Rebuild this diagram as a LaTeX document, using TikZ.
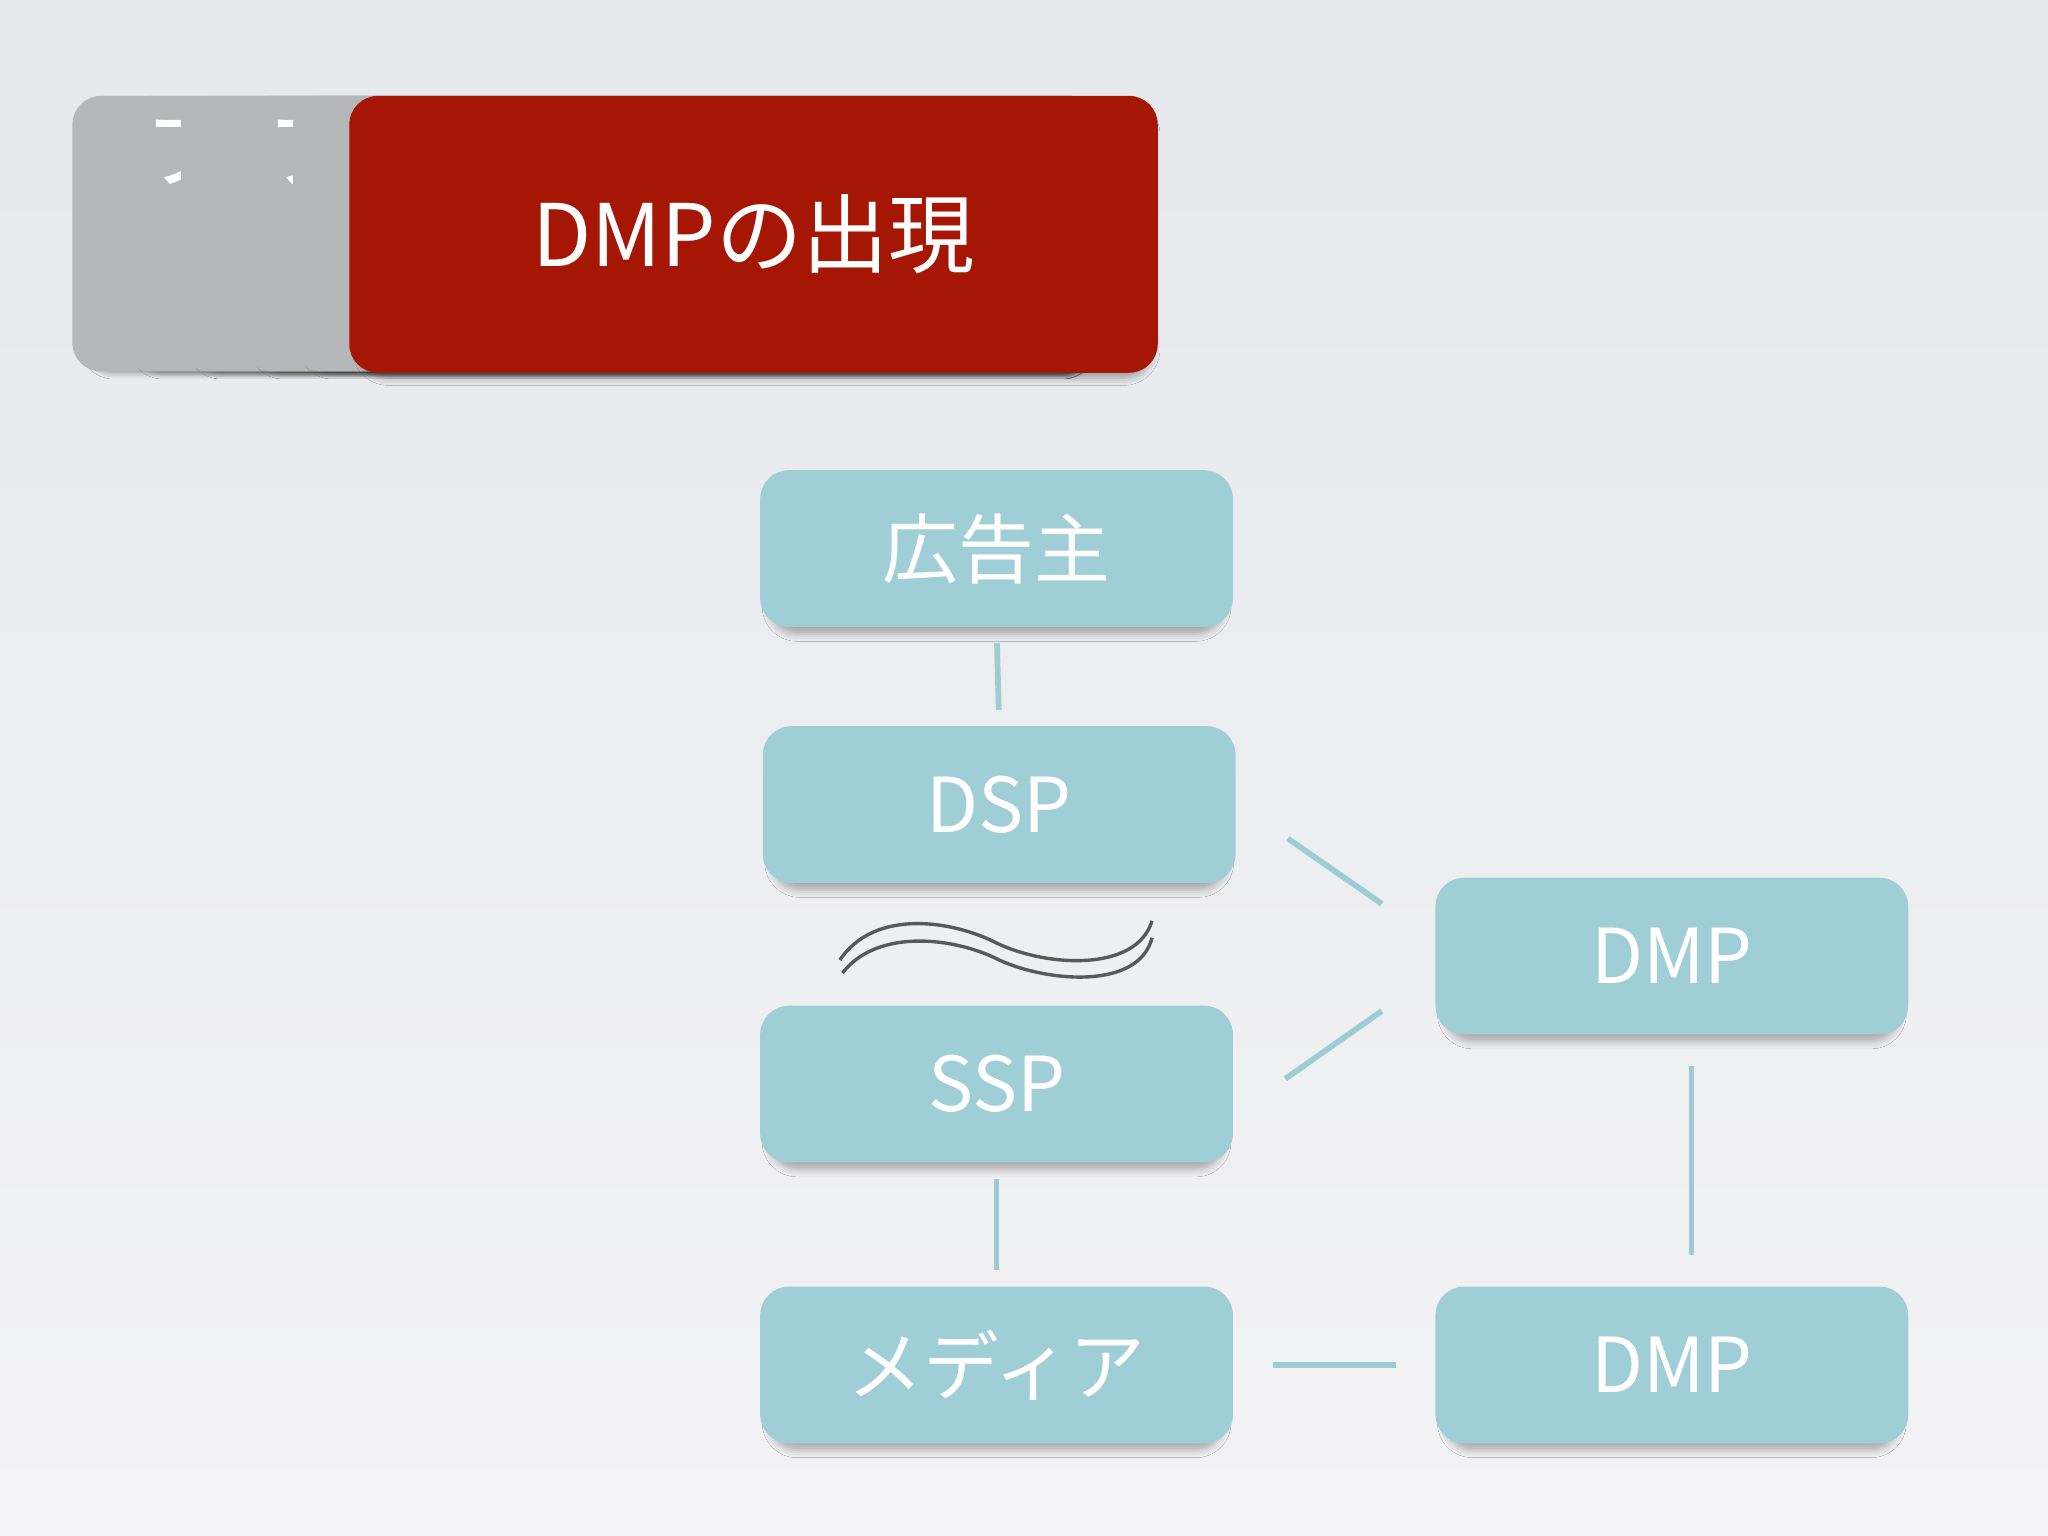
\documentclass[tikz,border=0pt]{standalone}
\usepackage{fontspec}
\setmainfont{Noto Sans CJK JP}
\usetikzlibrary{shadows.blur}
\definecolor{bx}{HTML}{A0CED6}
\definecolor{rd}{HTML}{A51704}
\definecolor{gy}{HTML}{B6B7B9}
\definecolor{ln}{HTML}{9ECCD3}
\definecolor{bgt}{HTML}{E6E8EC}
\definecolor{bgb}{HTML}{F3F3F5}
\tikzset{
 box/.style={fill=bx,rounded corners=11pt,minimum width=181pt,minimum height=60pt,text=white,font=\fontsize{29}{29}\selectfont,blur shadow={shadow xshift=0pt,shadow yshift=-4pt,shadow scale=0.96,shadow opacity=30,shadow blur radius=3pt}},
 card/.style={fill=gy,rounded corners=11pt,blur shadow={shadow xshift=1pt,shadow yshift=-2pt,shadow scale=0.98,shadow opacity=30,shadow blur radius=2pt}},
 conn/.style={ln,line width=2.2pt,shorten <=6pt,shorten >=6pt},
 wave/.style={draw=black!65,line width=1.3pt}
}
\begin{document}
\begin{tikzpicture}[x=0.5pt,y=-0.5pt]
\shade[top color=bgt,bottom color=bgb] (0,0) rectangle (1568,1176);
\useasboundingbox (0,0) rectangle (1568,1176);
% cards
\foreach \x/\t in {55/,93/フ,138/,186/フ,224/}{
 \pgfmathsetmacro\w{(840-\x)/2}
 \node[card,minimum width=\w pt,minimum height=105.5pt,anchor=north west,inner sep=0pt] at (\x,73) {};
 \node[text=white,font=\fontsize{34}{34}\selectfont,anchor=north west] at (\x+10,85) {\t};
}
\node[fill=rd,rounded corners=11pt,minimum width=309.5pt,minimum height=106pt,anchor=north west,text=white,font=\fontsize{33}{33}\selectfont,blur shadow={shadow xshift=1pt,shadow yshift=-3pt,shadow scale=0.98,shadow opacity=35,shadow blur radius=3pt}] (title) at (267,73) {DMPの出現};
% boxes
\node[box] (ad) at (763,420) {広告主};
\node[box] (dsp) at (765,616) {DSP};
\node[box] (ssp) at (763,830) {SSP};
\node[box] (media) at (763,1045) {メディア};
\node[box] (dmp1) at (1280,732) {DMP};
\node[box] (dmp2) at (1280,1045) {DMP};
% connectors
\draw[conn] (ad.south) -- (dsp.north);
\draw[conn] (ssp.south) -- (media.north);
\draw[conn,shorten <=12pt,shorten >=12pt] ([xshift=7.5pt]dmp1.south) -- ([xshift=7.5pt]dmp2.north);
\draw[conn,shorten <=15pt,shorten >=15pt] (media.east) -- (dmp2.west);
\draw[conn,shorten <=0pt,shorten >=0pt] (986,642) coordinate (c1) -- (1058,692) coordinate (c2);
\draw[conn,shorten <=0pt,shorten >=0pt] (984,826) coordinate (c3) -- (1058,774) coordinate (c4);
% wave
\draw[wave] (643,735) .. controls (670,695) and (730,705) .. (763,722) .. controls (800,740) and (870,745) .. (882,705);
\draw[wave] (645,745) .. controls (672,710) and (732,718) .. (765,735) .. controls (802,752) and (872,758) .. (882,718);
\end{tikzpicture}
\end{document}
